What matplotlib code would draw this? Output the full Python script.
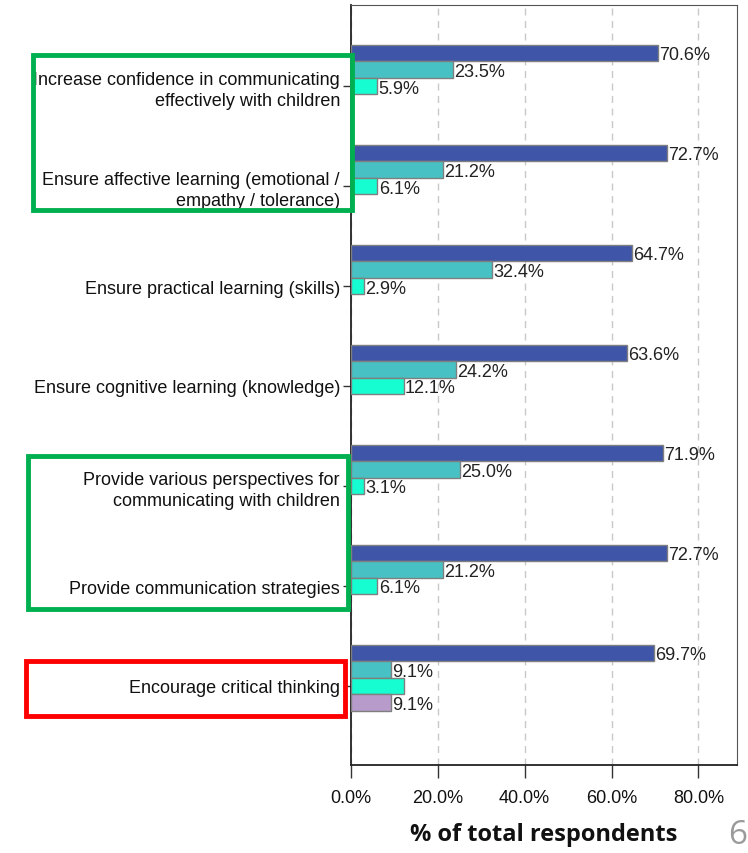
import matplotlib
matplotlib.use("Agg")
import matplotlib.pyplot as plt
from matplotlib.patches import Rectangle
import numpy as np

categories = [
    "Increase confidence in communicating\neffectively with children",
    "Ensure affective learning (emotional /\nempathy / tolerance)",
    "Ensure practical learning (skills)",
    "Ensure cognitive learning (knowledge)",
    "Provide various perspectives for\ncommunicating with children",
    "Provide communication strategies",
    "Encourage critical thinking",
]
series1 = [70.6, 72.7, 64.7, 63.6, 71.9, 72.7, 69.7]
series2 = [23.5, 21.2, 32.4, 24.2, 25.0, 21.2, 9.1]
series3 = [5.9, 6.1, 2.9, 12.1, 3.1, 6.1, 12.1]
series4 = [None, None, None, None, None, None, 9.1]
series3_label_shown = [True, True, True, True, True, True, False]
xticks = [0, 20, 40, 60, 80]
xtick_labels = ["0.0%", "20.0%", "40.0%", "60.0%", "80.0%"]

colors = ["#3E55A8", "#47C1C3", "#16FDD2", "#B69BCB"]

W, H = 748, 854
fig = plt.figure(figsize=(W / 100, H / 100), dpi=100)
ax = fig.add_axes([351 / W, 1 - 766 / H, (737 - 351) / W, (766 - 6) / H])

font = ["Liberation Sans", "DejaVu Sans"]
fs = 13

h = 0.165
offsets = [-2 * h, -1 * h, 0, 1 * h]
ypos = np.arange(len(categories))
all_series = [series1, series2, series3, series4]
for si, (vals, off) in enumerate(zip(all_series, offsets)):
    for ci, v in enumerate(vals):
        if v is None:
            continue
        y = ypos[ci] + off
        ax.barh(y, v, height=h, color=colors[si], edgecolor="#7F7F7F",
                linewidth=1.0, zorder=3)
        show = True
        if si == 2:
            show = series3_label_shown[ci]
        if show:
            ax.text(v + 0.3, y + 0.02, f"{v:.1f}%", va="center", ha="left",
                    fontsize=fs, family=font, color="#222222", zorder=4)

ax.set_xlim(0, 88.9)
ax.set_ylim(6.79, -0.81)
ax.set_yticks(ypos)
ax.set_yticklabels(categories, fontsize=fs, family=font, color="#111111",
                   ha="right", linespacing=1.3)
for lab in ax.get_yticklabels():
    lab.set_y(lab.get_position()[1])
ax.set_xticks(xticks)
ax.set_xticklabels(xtick_labels, fontsize=fs, family=font, color="#111111")
ax.tick_params(axis="y", length=6, width=1, pad=2, color="#333333")
ax.tick_params(axis="x", length=9, width=1, pad=8, color="#333333")
ax.grid(axis="x", color="#C8C8C8", linestyle=(0, (5, 4)), linewidth=1, zorder=0)
ax.set_axisbelow(True)
for side in ["top", "right"]:
    ax.spines[side].set_color("#555555")
for side in ["left", "bottom"]:
    ax.spines[side].set_color("#222222")
    ax.spines[side].set_linewidth(1.3)

ax.set_xlabel("% of total respondents", fontsize=17, family=["Open Sans", "DejaVu Sans"],
              fontweight="bold", labelpad=12, color="#111111")

def box(x0, y0, x1, y1, color):
    r = Rectangle((x0 / W, 1 - y1 / H), (x1 - x0) / W, (y1 - y0) / H,
                  transform=fig.transFigure, fill=False, edgecolor=color,
                  linewidth=3.5, zorder=10)
    fig.patches.append(r)

box(33, 56, 352, 211, "#00B050")
box(28, 457, 348, 610, "#00B050")
box(26, 662, 345, 717, "#FF0000")

fig.text(747 / W, 1 - 836 / H, "6", fontsize=24, family=["Open Sans", "DejaVu Sans"],
         color="#9A9A9A", ha="right", va="center")

fig.savefig("out.png", dpi=100)
